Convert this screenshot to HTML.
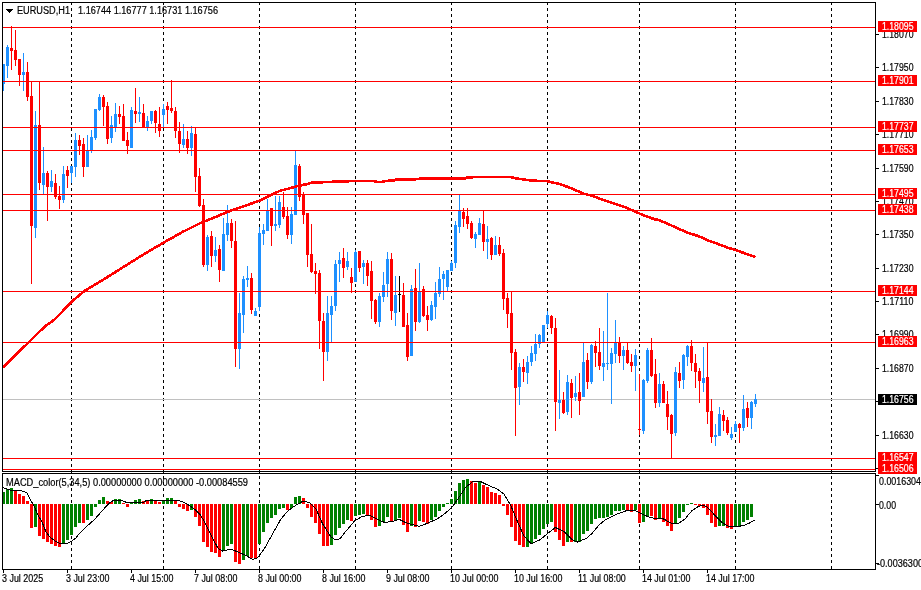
<!DOCTYPE html>
<html><head><meta charset="utf-8"><title>EURUSD,H1</title>
<style>
html,body{margin:0;padding:0;background:#fff;}
body{width:921px;height:590px;overflow:hidden;}
svg{display:block;will-change:transform;}
text{font-family:"Liberation Sans",sans-serif;}
</style></head>
<body>
<svg width="921" height="590" viewBox="0 0 921 590" shape-rendering="crispEdges">
<line x1="71.5" y1="2" x2="71.5" y2="570" stroke="#000" stroke-dasharray="3 3"/>
<line x1="163.5" y1="2" x2="163.5" y2="570" stroke="#000" stroke-dasharray="3 3"/>
<line x1="259.5" y1="2" x2="259.5" y2="570" stroke="#000" stroke-dasharray="3 3"/>
<line x1="355.5" y1="2" x2="355.5" y2="570" stroke="#000" stroke-dasharray="3 3"/>
<line x1="451.5" y1="2" x2="451.5" y2="570" stroke="#000" stroke-dasharray="3 3"/>
<line x1="547.5" y1="2" x2="547.5" y2="570" stroke="#000" stroke-dasharray="3 3"/>
<line x1="639.5" y1="2" x2="639.5" y2="570" stroke="#000" stroke-dasharray="3 3"/>
<line x1="735.5" y1="2" x2="735.5" y2="570" stroke="#000" stroke-dasharray="3 3"/>
<line x1="831.5" y1="2" x2="831.5" y2="570" stroke="#000" stroke-dasharray="3 3"/>
<rect x="3" y="399" width="872" height="1" fill="#c0c0c0"/>
<rect x="3" y="64" width="1" height="27" fill="#1e90ff"/>
<rect x="2" y="64" width="3" height="20" fill="#1e90ff"/>
<rect x="7" y="45" width="1" height="33" fill="#1e90ff"/>
<rect x="6" y="47" width="3" height="19" fill="#1e90ff"/>
<rect x="11" y="26" width="1" height="44" fill="#ff0000"/>
<rect x="10" y="48" width="3" height="3" fill="#ff0000"/>
<rect x="15" y="30" width="1" height="36" fill="#ff0000"/>
<rect x="14" y="50" width="3" height="10" fill="#ff0000"/>
<rect x="19" y="59" width="1" height="27" fill="#ff0000"/>
<rect x="18" y="59" width="3" height="16" fill="#ff0000"/>
<rect x="23" y="53" width="1" height="38" fill="#1e90ff"/>
<rect x="22" y="72" width="3" height="3" fill="#1e90ff"/>
<rect x="27" y="62" width="1" height="39" fill="#ff0000"/>
<rect x="26" y="72" width="3" height="25" fill="#ff0000"/>
<rect x="31" y="82" width="1" height="202" fill="#ff0000"/>
<rect x="30" y="96" width="3" height="130" fill="#ff0000"/>
<rect x="35" y="111" width="1" height="127" fill="#1e90ff"/>
<rect x="34" y="125" width="3" height="103" fill="#1e90ff"/>
<rect x="39" y="82" width="1" height="108" fill="#ff0000"/>
<rect x="38" y="125" width="3" height="58" fill="#ff0000"/>
<rect x="43" y="147" width="1" height="47" fill="#1e90ff"/>
<rect x="42" y="173" width="3" height="12" fill="#1e90ff"/>
<rect x="47" y="171" width="1" height="50" fill="#ff0000"/>
<rect x="46" y="173" width="3" height="14" fill="#ff0000"/>
<rect x="51" y="170" width="1" height="22" fill="#1e90ff"/>
<rect x="50" y="181" width="3" height="6" fill="#1e90ff"/>
<rect x="55" y="174" width="1" height="25" fill="#ff0000"/>
<rect x="54" y="183" width="3" height="14" fill="#ff0000"/>
<rect x="59" y="186" width="1" height="23" fill="#ff0000"/>
<rect x="58" y="196" width="3" height="4" fill="#ff0000"/>
<rect x="63" y="166" width="1" height="37" fill="#1e90ff"/>
<rect x="62" y="174" width="3" height="26" fill="#1e90ff"/>
<rect x="67" y="166" width="1" height="22" fill="#ff0000"/>
<rect x="66" y="170" width="3" height="6" fill="#ff0000"/>
<rect x="71" y="166" width="1" height="17" fill="#1e90ff"/>
<rect x="70" y="166" width="3" height="7" fill="#1e90ff"/>
<rect x="75" y="133" width="1" height="44" fill="#1e90ff"/>
<rect x="74" y="140" width="3" height="27" fill="#1e90ff"/>
<rect x="79" y="135" width="1" height="20" fill="#ff0000"/>
<rect x="78" y="140" width="3" height="6" fill="#ff0000"/>
<rect x="83" y="138" width="1" height="39" fill="#ff0000"/>
<rect x="82" y="144" width="3" height="23" fill="#ff0000"/>
<rect x="87" y="135" width="1" height="32" fill="#1e90ff"/>
<rect x="86" y="151" width="3" height="16" fill="#1e90ff"/>
<rect x="91" y="130" width="1" height="23" fill="#1e90ff"/>
<rect x="90" y="137" width="3" height="13" fill="#1e90ff"/>
<rect x="95" y="109" width="1" height="31" fill="#1e90ff"/>
<rect x="94" y="109" width="3" height="29" fill="#1e90ff"/>
<rect x="99" y="94" width="1" height="17" fill="#1e90ff"/>
<rect x="98" y="97" width="3" height="13" fill="#1e90ff"/>
<rect x="103" y="95" width="1" height="31" fill="#ff0000"/>
<rect x="102" y="97" width="3" height="10" fill="#ff0000"/>
<rect x="107" y="102" width="1" height="42" fill="#ff0000"/>
<rect x="106" y="106" width="3" height="33" fill="#ff0000"/>
<rect x="111" y="116" width="1" height="27" fill="#1e90ff"/>
<rect x="110" y="125" width="3" height="13" fill="#1e90ff"/>
<rect x="115" y="103" width="1" height="29" fill="#1e90ff"/>
<rect x="114" y="114" width="3" height="13" fill="#1e90ff"/>
<rect x="119" y="106" width="1" height="18" fill="#ff0000"/>
<rect x="118" y="114" width="3" height="3" fill="#ff0000"/>
<rect x="123" y="104" width="1" height="37" fill="#ff0000"/>
<rect x="122" y="116" width="3" height="25" fill="#ff0000"/>
<rect x="127" y="132" width="1" height="22" fill="#ff0000"/>
<rect x="126" y="140" width="3" height="6" fill="#ff0000"/>
<rect x="131" y="107" width="1" height="41" fill="#1e90ff"/>
<rect x="130" y="110" width="3" height="38" fill="#1e90ff"/>
<rect x="135" y="88" width="1" height="35" fill="#ff0000"/>
<rect x="134" y="111" width="3" height="3" fill="#ff0000"/>
<rect x="139" y="97" width="1" height="25" fill="#1e90ff"/>
<rect x="138" y="112" width="3" height="2" fill="#1e90ff"/>
<rect x="143" y="104" width="1" height="23" fill="#ff0000"/>
<rect x="142" y="113" width="3" height="14" fill="#ff0000"/>
<rect x="147" y="116" width="1" height="15" fill="#1e90ff"/>
<rect x="146" y="121" width="3" height="6" fill="#1e90ff"/>
<rect x="151" y="111" width="1" height="13" fill="#1e90ff"/>
<rect x="150" y="111" width="3" height="10" fill="#1e90ff"/>
<rect x="155" y="110" width="1" height="23" fill="#ff0000"/>
<rect x="154" y="111" width="3" height="12" fill="#ff0000"/>
<rect x="159" y="107" width="1" height="30" fill="#ff0000"/>
<rect x="158" y="124" width="3" height="7" fill="#ff0000"/>
<rect x="163" y="104" width="1" height="23" fill="#1e90ff"/>
<rect x="162" y="109" width="3" height="6" fill="#1e90ff"/>
<rect x="167" y="102" width="1" height="22" fill="#ff0000"/>
<rect x="166" y="106" width="3" height="4" fill="#ff0000"/>
<rect x="171" y="80" width="1" height="33" fill="#ff0000"/>
<rect x="170" y="108" width="3" height="3" fill="#ff0000"/>
<rect x="175" y="107" width="1" height="31" fill="#ff0000"/>
<rect x="174" y="111" width="3" height="20" fill="#ff0000"/>
<rect x="179" y="122" width="1" height="31" fill="#ff0000"/>
<rect x="178" y="131" width="3" height="13" fill="#ff0000"/>
<rect x="183" y="124" width="1" height="24" fill="#1e90ff"/>
<rect x="182" y="139" width="3" height="6" fill="#1e90ff"/>
<rect x="187" y="131" width="1" height="23" fill="#ff0000"/>
<rect x="186" y="139" width="3" height="9" fill="#ff0000"/>
<rect x="191" y="126" width="1" height="30" fill="#1e90ff"/>
<rect x="190" y="133" width="3" height="15" fill="#1e90ff"/>
<rect x="195" y="127" width="1" height="65" fill="#ff0000"/>
<rect x="194" y="134" width="3" height="43" fill="#ff0000"/>
<rect x="199" y="168" width="1" height="39" fill="#ff0000"/>
<rect x="198" y="176" width="3" height="30" fill="#ff0000"/>
<rect x="203" y="199" width="1" height="68" fill="#ff0000"/>
<rect x="202" y="205" width="3" height="60" fill="#ff0000"/>
<rect x="207" y="235" width="1" height="36" fill="#1e90ff"/>
<rect x="206" y="237" width="3" height="28" fill="#1e90ff"/>
<rect x="211" y="231" width="1" height="36" fill="#ff0000"/>
<rect x="210" y="236" width="3" height="20" fill="#ff0000"/>
<rect x="215" y="237" width="1" height="25" fill="#1e90ff"/>
<rect x="214" y="250" width="3" height="6" fill="#1e90ff"/>
<rect x="219" y="245" width="1" height="37" fill="#ff0000"/>
<rect x="218" y="249" width="3" height="21" fill="#ff0000"/>
<rect x="223" y="218" width="1" height="53" fill="#1e90ff"/>
<rect x="222" y="234" width="3" height="37" fill="#1e90ff"/>
<rect x="227" y="205" width="1" height="36" fill="#1e90ff"/>
<rect x="226" y="223" width="3" height="12" fill="#1e90ff"/>
<rect x="231" y="219" width="1" height="29" fill="#ff0000"/>
<rect x="230" y="223" width="3" height="18" fill="#ff0000"/>
<rect x="235" y="221" width="1" height="146" fill="#ff0000"/>
<rect x="234" y="241" width="3" height="108" fill="#ff0000"/>
<rect x="239" y="293" width="1" height="76" fill="#1e90ff"/>
<rect x="238" y="313" width="3" height="36" fill="#1e90ff"/>
<rect x="243" y="276" width="1" height="57" fill="#1e90ff"/>
<rect x="242" y="279" width="3" height="36" fill="#1e90ff"/>
<rect x="247" y="266" width="1" height="21" fill="#1e90ff"/>
<rect x="246" y="278" width="3" height="2" fill="#1e90ff"/>
<rect x="251" y="273" width="1" height="41" fill="#ff0000"/>
<rect x="250" y="278" width="3" height="32" fill="#ff0000"/>
<rect x="255" y="308" width="1" height="8" fill="#1e90ff"/>
<rect x="254" y="311" width="3" height="5" fill="#1e90ff"/>
<rect x="259" y="227" width="1" height="84" fill="#1e90ff"/>
<rect x="258" y="233" width="3" height="74" fill="#1e90ff"/>
<rect x="263" y="224" width="1" height="21" fill="#1e90ff"/>
<rect x="262" y="230" width="3" height="4" fill="#1e90ff"/>
<rect x="267" y="199" width="1" height="32" fill="#1e90ff"/>
<rect x="266" y="211" width="3" height="20" fill="#1e90ff"/>
<rect x="271" y="208" width="1" height="38" fill="#ff0000"/>
<rect x="270" y="208" width="3" height="18" fill="#ff0000"/>
<rect x="275" y="196" width="1" height="35" fill="#1e90ff"/>
<rect x="274" y="224" width="3" height="2" fill="#1e90ff"/>
<rect x="279" y="196" width="1" height="32" fill="#1e90ff"/>
<rect x="278" y="202" width="3" height="23" fill="#1e90ff"/>
<rect x="283" y="192" width="1" height="27" fill="#ff0000"/>
<rect x="282" y="207" width="3" height="10" fill="#ff0000"/>
<rect x="287" y="207" width="1" height="32" fill="#ff0000"/>
<rect x="286" y="216" width="3" height="19" fill="#ff0000"/>
<rect x="291" y="207" width="1" height="37" fill="#1e90ff"/>
<rect x="290" y="214" width="3" height="21" fill="#1e90ff"/>
<rect x="295" y="151" width="1" height="64" fill="#1e90ff"/>
<rect x="294" y="165" width="3" height="50" fill="#1e90ff"/>
<rect x="299" y="164" width="1" height="37" fill="#ff0000"/>
<rect x="298" y="166" width="3" height="31" fill="#ff0000"/>
<rect x="303" y="192" width="1" height="32" fill="#ff0000"/>
<rect x="302" y="194" width="3" height="21" fill="#ff0000"/>
<rect x="307" y="213" width="1" height="54" fill="#ff0000"/>
<rect x="306" y="213" width="3" height="42" fill="#ff0000"/>
<rect x="311" y="224" width="1" height="49" fill="#ff0000"/>
<rect x="310" y="254" width="3" height="18" fill="#ff0000"/>
<rect x="315" y="263" width="1" height="31" fill="#ff0000"/>
<rect x="314" y="271" width="3" height="3" fill="#ff0000"/>
<rect x="319" y="270" width="1" height="79" fill="#ff0000"/>
<rect x="318" y="273" width="3" height="48" fill="#ff0000"/>
<rect x="323" y="313" width="1" height="68" fill="#ff0000"/>
<rect x="322" y="321" width="3" height="31" fill="#ff0000"/>
<rect x="327" y="296" width="1" height="65" fill="#1e90ff"/>
<rect x="326" y="313" width="3" height="39" fill="#1e90ff"/>
<rect x="331" y="296" width="1" height="46" fill="#1e90ff"/>
<rect x="330" y="306" width="3" height="9" fill="#1e90ff"/>
<rect x="335" y="260" width="1" height="51" fill="#1e90ff"/>
<rect x="334" y="264" width="3" height="42" fill="#1e90ff"/>
<rect x="339" y="252" width="1" height="30" fill="#1e90ff"/>
<rect x="338" y="260" width="3" height="4" fill="#1e90ff"/>
<rect x="343" y="248" width="1" height="30" fill="#ff0000"/>
<rect x="342" y="258" width="3" height="10" fill="#ff0000"/>
<rect x="347" y="252" width="1" height="18" fill="#1e90ff"/>
<rect x="346" y="261" width="3" height="6" fill="#1e90ff"/>
<rect x="351" y="268" width="1" height="25" fill="#ff0000"/>
<rect x="350" y="277" width="3" height="6" fill="#ff0000"/>
<rect x="355" y="250" width="1" height="32" fill="#1e90ff"/>
<rect x="354" y="252" width="3" height="30" fill="#1e90ff"/>
<rect x="359" y="251" width="1" height="21" fill="#ff0000"/>
<rect x="358" y="251" width="3" height="17" fill="#ff0000"/>
<rect x="363" y="260" width="1" height="24" fill="#1e90ff"/>
<rect x="362" y="263" width="3" height="4" fill="#1e90ff"/>
<rect x="367" y="260" width="1" height="26" fill="#ff0000"/>
<rect x="366" y="263" width="3" height="13" fill="#ff0000"/>
<rect x="371" y="261" width="1" height="58" fill="#ff0000"/>
<rect x="370" y="271" width="3" height="30" fill="#ff0000"/>
<rect x="375" y="299" width="1" height="25" fill="#ff0000"/>
<rect x="374" y="300" width="3" height="22" fill="#ff0000"/>
<rect x="379" y="293" width="1" height="34" fill="#1e90ff"/>
<rect x="378" y="296" width="3" height="26" fill="#1e90ff"/>
<rect x="383" y="272" width="1" height="30" fill="#1e90ff"/>
<rect x="382" y="285" width="3" height="12" fill="#1e90ff"/>
<rect x="387" y="252" width="1" height="45" fill="#1e90ff"/>
<rect x="386" y="259" width="3" height="25" fill="#1e90ff"/>
<rect x="391" y="253" width="1" height="67" fill="#ff0000"/>
<rect x="390" y="259" width="3" height="52" fill="#ff0000"/>
<rect x="395" y="276" width="1" height="50" fill="#1e90ff"/>
<rect x="394" y="295" width="3" height="18" fill="#1e90ff"/>
<rect x="399" y="276" width="1" height="36" fill="#000"/>
<rect x="398" y="294" width="3" height="1" fill="#000"/>
<rect x="403" y="283" width="1" height="44" fill="#ff0000"/>
<rect x="402" y="295" width="3" height="32" fill="#ff0000"/>
<rect x="407" y="313" width="1" height="48" fill="#ff0000"/>
<rect x="406" y="325" width="3" height="32" fill="#ff0000"/>
<rect x="411" y="285" width="1" height="71" fill="#1e90ff"/>
<rect x="410" y="289" width="3" height="67" fill="#1e90ff"/>
<rect x="415" y="269" width="1" height="62" fill="#ff0000"/>
<rect x="414" y="288" width="3" height="34" fill="#ff0000"/>
<rect x="419" y="263" width="1" height="60" fill="#1e90ff"/>
<rect x="418" y="291" width="3" height="31" fill="#1e90ff"/>
<rect x="423" y="286" width="1" height="31" fill="#ff0000"/>
<rect x="422" y="289" width="3" height="27" fill="#ff0000"/>
<rect x="427" y="306" width="1" height="25" fill="#ff0000"/>
<rect x="426" y="315" width="3" height="5" fill="#ff0000"/>
<rect x="431" y="301" width="1" height="20" fill="#1e90ff"/>
<rect x="430" y="305" width="3" height="15" fill="#1e90ff"/>
<rect x="435" y="282" width="1" height="37" fill="#1e90ff"/>
<rect x="434" y="293" width="3" height="14" fill="#1e90ff"/>
<rect x="439" y="267" width="1" height="30" fill="#1e90ff"/>
<rect x="438" y="279" width="3" height="15" fill="#1e90ff"/>
<rect x="443" y="271" width="1" height="29" fill="#1e90ff"/>
<rect x="442" y="274" width="3" height="5" fill="#1e90ff"/>
<rect x="447" y="270" width="1" height="21" fill="#1e90ff"/>
<rect x="446" y="270" width="3" height="17" fill="#1e90ff"/>
<rect x="451" y="261" width="1" height="10" fill="#1e90ff"/>
<rect x="450" y="263" width="3" height="8" fill="#1e90ff"/>
<rect x="455" y="221" width="1" height="47" fill="#1e90ff"/>
<rect x="454" y="225" width="3" height="38" fill="#1e90ff"/>
<rect x="459" y="195" width="1" height="38" fill="#1e90ff"/>
<rect x="458" y="210" width="3" height="17" fill="#1e90ff"/>
<rect x="463" y="208" width="1" height="19" fill="#ff0000"/>
<rect x="462" y="212" width="3" height="7" fill="#ff0000"/>
<rect x="467" y="208" width="1" height="21" fill="#ff0000"/>
<rect x="466" y="216" width="3" height="8" fill="#ff0000"/>
<rect x="471" y="221" width="1" height="18" fill="#ff0000"/>
<rect x="470" y="223" width="3" height="15" fill="#ff0000"/>
<rect x="475" y="232" width="1" height="16" fill="#1e90ff"/>
<rect x="474" y="234" width="3" height="5" fill="#1e90ff"/>
<rect x="479" y="218" width="1" height="17" fill="#1e90ff"/>
<rect x="478" y="223" width="3" height="12" fill="#1e90ff"/>
<rect x="483" y="211" width="1" height="40" fill="#ff0000"/>
<rect x="482" y="224" width="3" height="18" fill="#ff0000"/>
<rect x="487" y="226" width="1" height="33" fill="#1e90ff"/>
<rect x="486" y="239" width="3" height="3" fill="#1e90ff"/>
<rect x="491" y="237" width="1" height="23" fill="#ff0000"/>
<rect x="490" y="238" width="3" height="17" fill="#ff0000"/>
<rect x="495" y="236" width="1" height="19" fill="#1e90ff"/>
<rect x="494" y="245" width="3" height="10" fill="#1e90ff"/>
<rect x="499" y="237" width="1" height="19" fill="#ff0000"/>
<rect x="498" y="245" width="3" height="9" fill="#ff0000"/>
<rect x="503" y="249" width="1" height="61" fill="#ff0000"/>
<rect x="502" y="253" width="3" height="46" fill="#ff0000"/>
<rect x="507" y="293" width="1" height="35" fill="#ff0000"/>
<rect x="506" y="298" width="3" height="16" fill="#ff0000"/>
<rect x="511" y="292" width="1" height="78" fill="#ff0000"/>
<rect x="510" y="313" width="3" height="40" fill="#ff0000"/>
<rect x="515" y="349" width="1" height="87" fill="#ff0000"/>
<rect x="514" y="352" width="3" height="36" fill="#ff0000"/>
<rect x="519" y="363" width="1" height="42" fill="#1e90ff"/>
<rect x="518" y="367" width="3" height="20" fill="#1e90ff"/>
<rect x="523" y="359" width="1" height="23" fill="#ff0000"/>
<rect x="522" y="367" width="3" height="5" fill="#ff0000"/>
<rect x="527" y="356" width="1" height="28" fill="#1e90ff"/>
<rect x="526" y="362" width="3" height="11" fill="#1e90ff"/>
<rect x="531" y="346" width="1" height="20" fill="#1e90ff"/>
<rect x="530" y="353" width="3" height="9" fill="#1e90ff"/>
<rect x="535" y="334" width="1" height="27" fill="#1e90ff"/>
<rect x="534" y="344" width="3" height="10" fill="#1e90ff"/>
<rect x="539" y="334" width="1" height="14" fill="#1e90ff"/>
<rect x="538" y="335" width="3" height="9" fill="#1e90ff"/>
<rect x="543" y="325" width="1" height="17" fill="#1e90ff"/>
<rect x="542" y="325" width="3" height="17" fill="#1e90ff"/>
<rect x="547" y="311" width="1" height="17" fill="#1e90ff"/>
<rect x="546" y="315" width="3" height="9" fill="#1e90ff"/>
<rect x="551" y="315" width="1" height="19" fill="#ff0000"/>
<rect x="550" y="316" width="3" height="12" fill="#ff0000"/>
<rect x="555" y="318" width="1" height="113" fill="#ff0000"/>
<rect x="554" y="328" width="3" height="74" fill="#ff0000"/>
<rect x="559" y="370" width="1" height="49" fill="#1e90ff"/>
<rect x="558" y="400" width="3" height="3" fill="#1e90ff"/>
<rect x="563" y="392" width="1" height="22" fill="#ff0000"/>
<rect x="562" y="400" width="3" height="13" fill="#ff0000"/>
<rect x="567" y="375" width="1" height="40" fill="#1e90ff"/>
<rect x="566" y="382" width="3" height="30" fill="#1e90ff"/>
<rect x="571" y="379" width="1" height="39" fill="#ff0000"/>
<rect x="570" y="383" width="3" height="15" fill="#ff0000"/>
<rect x="575" y="376" width="1" height="25" fill="#1e90ff"/>
<rect x="574" y="393" width="3" height="4" fill="#1e90ff"/>
<rect x="579" y="373" width="1" height="42" fill="#ff0000"/>
<rect x="578" y="392" width="3" height="9" fill="#ff0000"/>
<rect x="583" y="343" width="1" height="54" fill="#1e90ff"/>
<rect x="582" y="362" width="3" height="35" fill="#1e90ff"/>
<rect x="587" y="353" width="1" height="36" fill="#ff0000"/>
<rect x="586" y="360" width="3" height="22" fill="#ff0000"/>
<rect x="591" y="344" width="1" height="40" fill="#1e90ff"/>
<rect x="590" y="345" width="3" height="37" fill="#1e90ff"/>
<rect x="595" y="341" width="1" height="26" fill="#ff0000"/>
<rect x="594" y="346" width="3" height="7" fill="#ff0000"/>
<rect x="599" y="328" width="1" height="42" fill="#ff0000"/>
<rect x="598" y="352" width="3" height="14" fill="#ff0000"/>
<rect x="603" y="331" width="1" height="50" fill="#1e90ff"/>
<rect x="602" y="363" width="3" height="4" fill="#1e90ff"/>
<rect x="607" y="293" width="1" height="77" fill="#1e90ff"/>
<rect x="606" y="363" width="3" height="1" fill="#1e90ff"/>
<rect x="611" y="348" width="1" height="56" fill="#1e90ff"/>
<rect x="610" y="353" width="3" height="11" fill="#1e90ff"/>
<rect x="615" y="320" width="1" height="43" fill="#1e90ff"/>
<rect x="614" y="343" width="3" height="11" fill="#1e90ff"/>
<rect x="619" y="337" width="1" height="26" fill="#ff0000"/>
<rect x="618" y="342" width="3" height="14" fill="#ff0000"/>
<rect x="623" y="346" width="1" height="24" fill="#1e90ff"/>
<rect x="622" y="350" width="3" height="6" fill="#1e90ff"/>
<rect x="627" y="343" width="1" height="21" fill="#ff0000"/>
<rect x="626" y="350" width="3" height="13" fill="#ff0000"/>
<rect x="631" y="354" width="1" height="18" fill="#ff0000"/>
<rect x="630" y="362" width="3" height="4" fill="#ff0000"/>
<rect x="635" y="349" width="1" height="42" fill="#1e90ff"/>
<rect x="634" y="355" width="3" height="11" fill="#1e90ff"/>
<rect x="639" y="374" width="1" height="61" fill="#ff0000"/>
<rect x="638" y="429" width="3" height="1" fill="#ff0000"/>
<rect x="643" y="379" width="1" height="55" fill="#1e90ff"/>
<rect x="642" y="380" width="3" height="51" fill="#1e90ff"/>
<rect x="647" y="348" width="1" height="35" fill="#1e90ff"/>
<rect x="646" y="350" width="3" height="31" fill="#1e90ff"/>
<rect x="651" y="338" width="1" height="39" fill="#ff0000"/>
<rect x="650" y="350" width="3" height="26" fill="#ff0000"/>
<rect x="655" y="359" width="1" height="49" fill="#ff0000"/>
<rect x="654" y="374" width="3" height="29" fill="#ff0000"/>
<rect x="659" y="373" width="1" height="34" fill="#1e90ff"/>
<rect x="658" y="384" width="3" height="19" fill="#1e90ff"/>
<rect x="663" y="381" width="1" height="22" fill="#ff0000"/>
<rect x="662" y="384" width="3" height="19" fill="#ff0000"/>
<rect x="667" y="391" width="1" height="39" fill="#ff0000"/>
<rect x="666" y="404" width="3" height="13" fill="#ff0000"/>
<rect x="671" y="414" width="1" height="44" fill="#ff0000"/>
<rect x="670" y="415" width="3" height="19" fill="#ff0000"/>
<rect x="675" y="367" width="1" height="69" fill="#1e90ff"/>
<rect x="674" y="372" width="3" height="61" fill="#1e90ff"/>
<rect x="679" y="362" width="1" height="26" fill="#ff0000"/>
<rect x="678" y="373" width="3" height="8" fill="#ff0000"/>
<rect x="683" y="354" width="1" height="35" fill="#1e90ff"/>
<rect x="682" y="355" width="3" height="25" fill="#1e90ff"/>
<rect x="687" y="345" width="1" height="21" fill="#1e90ff"/>
<rect x="686" y="346" width="3" height="11" fill="#1e90ff"/>
<rect x="691" y="340" width="1" height="31" fill="#ff0000"/>
<rect x="690" y="346" width="3" height="17" fill="#ff0000"/>
<rect x="695" y="354" width="1" height="34" fill="#ff0000"/>
<rect x="694" y="363" width="3" height="9" fill="#ff0000"/>
<rect x="699" y="368" width="1" height="35" fill="#ff0000"/>
<rect x="698" y="371" width="3" height="10" fill="#ff0000"/>
<rect x="703" y="347" width="1" height="45" fill="#1e90ff"/>
<rect x="702" y="378" width="3" height="5" fill="#1e90ff"/>
<rect x="707" y="343" width="1" height="81" fill="#ff0000"/>
<rect x="706" y="377" width="3" height="35" fill="#ff0000"/>
<rect x="711" y="399" width="1" height="44" fill="#ff0000"/>
<rect x="710" y="411" width="3" height="26" fill="#ff0000"/>
<rect x="715" y="424" width="1" height="22" fill="#1e90ff"/>
<rect x="714" y="435" width="3" height="2" fill="#1e90ff"/>
<rect x="719" y="407" width="1" height="29" fill="#1e90ff"/>
<rect x="718" y="414" width="3" height="22" fill="#1e90ff"/>
<rect x="723" y="410" width="1" height="21" fill="#ff0000"/>
<rect x="722" y="415" width="3" height="6" fill="#ff0000"/>
<rect x="727" y="417" width="1" height="18" fill="#ff0000"/>
<rect x="726" y="420" width="3" height="13" fill="#ff0000"/>
<rect x="731" y="427" width="1" height="13" fill="#1e90ff"/>
<rect x="730" y="434" width="3" height="4" fill="#1e90ff"/>
<rect x="735" y="421" width="1" height="11" fill="#1e90ff"/>
<rect x="734" y="424" width="3" height="8" fill="#1e90ff"/>
<rect x="739" y="423" width="1" height="20" fill="#ff0000"/>
<rect x="738" y="424" width="3" height="4" fill="#ff0000"/>
<rect x="743" y="395" width="1" height="36" fill="#1e90ff"/>
<rect x="742" y="409" width="3" height="19" fill="#1e90ff"/>
<rect x="747" y="402" width="1" height="25" fill="#ff0000"/>
<rect x="746" y="408" width="3" height="10" fill="#ff0000"/>
<rect x="751" y="401" width="1" height="28" fill="#1e90ff"/>
<rect x="750" y="402" width="3" height="16" fill="#1e90ff"/>
<rect x="755" y="394" width="1" height="13" fill="#1e90ff"/>
<rect x="754" y="399" width="3" height="5" fill="#1e90ff"/>
<rect x="3" y="27" width="872" height="1" fill="#ff0000"/>
<rect x="3" y="81" width="872" height="1" fill="#ff0000"/>
<rect x="3" y="127" width="872" height="1" fill="#ff0000"/>
<rect x="3" y="150" width="872" height="1" fill="#ff0000"/>
<rect x="3" y="194" width="872" height="1" fill="#ff0000"/>
<rect x="3" y="210" width="872" height="1" fill="#ff0000"/>
<rect x="3" y="291" width="872" height="1" fill="#ff0000"/>
<rect x="3" y="342" width="872" height="1" fill="#ff0000"/>
<rect x="3" y="458" width="872" height="1" fill="#ff0000"/>
<rect x="3" y="469" width="872" height="1" fill="#ff0000"/>
<polyline points="3.0,367.3 19.3,351.5 28.5,342.4 38.7,332.2 46.8,325.0 54.0,320.0 60.0,314.0 71.4,302.0 84.4,290.9 105.7,278.2 124.0,266.6 143.8,254.3 163.7,242.6 182.0,232.2 200.0,223.3 230.0,211.0 259.6,200.7 273.0,194.0 280.0,190.8 289.0,188.5 298.0,186.0 307.4,184.0 312.0,182.7 327.0,182.0 354.5,181.0 374.0,181.0 377.0,182.0 382.0,182.0 385.0,181.0 394.0,180.5 395.5,179.7 410.0,179.8 418.0,179.0 420.0,178.6 465.4,178.5 467.0,177.7 475.0,177.0 511.0,177.0 514.0,178.0 524.0,179.5 532.0,180.7 546.8,181.0 551.7,182.3 559.5,184.0 571.3,188.2 583.0,193.5 592.0,195.8 602.5,199.7 613.0,203.2 623.4,206.5 633.8,211.0 644.2,215.6 654.7,219.3 657.8,219.8 665.6,222.8 676.0,227.6 687.8,232.8 698.2,236.0 708.6,240.6 717.8,243.9 728.2,247.8 738.6,251.0 749.0,255.0 755.5,256.9" fill="none" stroke="#ff0000" stroke-width="2.6" stroke-linejoin="round" stroke-linecap="butt"/>
<rect x="2" y="492" width="3" height="12" fill="#008000"/>
<rect x="6" y="489" width="3" height="15" fill="#008000"/>
<rect x="10" y="488" width="3" height="16" fill="#008000"/>
<rect x="14" y="491" width="3" height="13" fill="#ff0000"/>
<rect x="18" y="494" width="3" height="10" fill="#ff0000"/>
<rect x="22" y="496" width="3" height="8" fill="#ff0000"/>
<rect x="26" y="501" width="3" height="3" fill="#ff0000"/>
<rect x="30" y="504" width="3" height="24" fill="#ff0000"/>
<rect x="34" y="504" width="3" height="23" fill="#008000"/>
<rect x="38" y="504" width="3" height="32" fill="#ff0000"/>
<rect x="42" y="504" width="3" height="35" fill="#ff0000"/>
<rect x="46" y="504" width="3" height="38" fill="#ff0000"/>
<rect x="50" y="504" width="3" height="40" fill="#ff0000"/>
<rect x="54" y="504" width="3" height="42" fill="#ff0000"/>
<rect x="58" y="504" width="3" height="43" fill="#ff0000"/>
<rect x="62" y="504" width="3" height="39" fill="#008000"/>
<rect x="66" y="504" width="3" height="36" fill="#008000"/>
<rect x="70" y="504" width="3" height="31" fill="#008000"/>
<rect x="74" y="504" width="3" height="23" fill="#008000"/>
<rect x="78" y="504" width="3" height="19" fill="#008000"/>
<rect x="82" y="504" width="3" height="19" fill="#ff0000"/>
<rect x="86" y="504" width="3" height="16" fill="#008000"/>
<rect x="90" y="504" width="3" height="12" fill="#008000"/>
<rect x="94" y="504" width="3" height="3" fill="#008000"/>
<rect x="98" y="500" width="3" height="4" fill="#008000"/>
<rect x="102" y="497" width="3" height="7" fill="#008000"/>
<rect x="106" y="501" width="3" height="3" fill="#ff0000"/>
<rect x="110" y="502" width="3" height="2" fill="#ff0000"/>
<rect x="114" y="499" width="3" height="5" fill="#008000"/>
<rect x="118" y="499" width="3" height="5" fill="#008000"/>
<rect x="122" y="503" width="3" height="1" fill="#ff0000"/>
<rect x="126" y="504" width="3" height="3" fill="#ff0000"/>
<rect x="130" y="503" width="3" height="1" fill="#008000"/>
<rect x="134" y="500" width="3" height="4" fill="#008000"/>
<rect x="138" y="499" width="3" height="5" fill="#008000"/>
<rect x="142" y="501" width="3" height="3" fill="#ff0000"/>
<rect x="146" y="501" width="3" height="3" fill="#ff0000"/>
<rect x="150" y="499" width="3" height="5" fill="#008000"/>
<rect x="154" y="501" width="3" height="3" fill="#ff0000"/>
<rect x="158" y="502" width="3" height="2" fill="#ff0000"/>
<rect x="162" y="501" width="3" height="3" fill="#008000"/>
<rect x="166" y="498" width="3" height="6" fill="#008000"/>
<rect x="170" y="498" width="3" height="6" fill="#008000"/>
<rect x="174" y="501" width="3" height="3" fill="#ff0000"/>
<rect x="178" y="504" width="3" height="3" fill="#ff0000"/>
<rect x="182" y="504" width="3" height="5" fill="#ff0000"/>
<rect x="186" y="504" width="3" height="7" fill="#ff0000"/>
<rect x="190" y="504" width="3" height="6" fill="#008000"/>
<rect x="194" y="504" width="3" height="13" fill="#ff0000"/>
<rect x="198" y="504" width="3" height="22" fill="#ff0000"/>
<rect x="202" y="504" width="3" height="38" fill="#ff0000"/>
<rect x="206" y="504" width="3" height="43" fill="#ff0000"/>
<rect x="210" y="504" width="3" height="48" fill="#ff0000"/>
<rect x="214" y="504" width="3" height="49" fill="#ff0000"/>
<rect x="218" y="504" width="3" height="53" fill="#ff0000"/>
<rect x="222" y="504" width="3" height="47" fill="#008000"/>
<rect x="226" y="504" width="3" height="42" fill="#008000"/>
<rect x="230" y="504" width="3" height="40" fill="#008000"/>
<rect x="234" y="504" width="3" height="58" fill="#ff0000"/>
<rect x="238" y="504" width="3" height="60" fill="#ff0000"/>
<rect x="242" y="504" width="3" height="56" fill="#008000"/>
<rect x="246" y="504" width="3" height="52" fill="#008000"/>
<rect x="250" y="504" width="3" height="54" fill="#ff0000"/>
<rect x="254" y="504" width="3" height="54" fill="#ff0000"/>
<rect x="258" y="504" width="3" height="40" fill="#008000"/>
<rect x="262" y="504" width="3" height="28" fill="#008000"/>
<rect x="266" y="504" width="3" height="19" fill="#008000"/>
<rect x="270" y="504" width="3" height="14" fill="#008000"/>
<rect x="274" y="504" width="3" height="11" fill="#008000"/>
<rect x="278" y="504" width="3" height="5" fill="#008000"/>
<rect x="282" y="504" width="3" height="4" fill="#008000"/>
<rect x="286" y="504" width="3" height="6" fill="#ff0000"/>
<rect x="290" y="504" width="3" height="4" fill="#008000"/>
<rect x="294" y="497" width="3" height="7" fill="#008000"/>
<rect x="298" y="496" width="3" height="8" fill="#008000"/>
<rect x="302" y="498" width="3" height="6" fill="#ff0000"/>
<rect x="306" y="504" width="3" height="4" fill="#ff0000"/>
<rect x="310" y="504" width="3" height="13" fill="#ff0000"/>
<rect x="314" y="504" width="3" height="19" fill="#ff0000"/>
<rect x="318" y="504" width="3" height="30" fill="#ff0000"/>
<rect x="322" y="504" width="3" height="42" fill="#ff0000"/>
<rect x="326" y="504" width="3" height="42" fill="#ff0000"/>
<rect x="330" y="504" width="3" height="41" fill="#008000"/>
<rect x="334" y="504" width="3" height="31" fill="#008000"/>
<rect x="338" y="504" width="3" height="24" fill="#008000"/>
<rect x="342" y="504" width="3" height="20" fill="#008000"/>
<rect x="346" y="504" width="3" height="16" fill="#008000"/>
<rect x="350" y="504" width="3" height="17" fill="#ff0000"/>
<rect x="354" y="504" width="3" height="12" fill="#008000"/>
<rect x="358" y="504" width="3" height="11" fill="#008000"/>
<rect x="362" y="504" width="3" height="10" fill="#008000"/>
<rect x="366" y="504" width="3" height="11" fill="#ff0000"/>
<rect x="370" y="504" width="3" height="16" fill="#ff0000"/>
<rect x="374" y="504" width="3" height="23" fill="#ff0000"/>
<rect x="378" y="504" width="3" height="22" fill="#008000"/>
<rect x="382" y="504" width="3" height="18" fill="#008000"/>
<rect x="386" y="504" width="3" height="13" fill="#008000"/>
<rect x="390" y="504" width="3" height="17" fill="#ff0000"/>
<rect x="394" y="504" width="3" height="16" fill="#008000"/>
<rect x="398" y="504" width="3" height="14" fill="#008000"/>
<rect x="402" y="504" width="3" height="21" fill="#ff0000"/>
<rect x="406" y="504" width="3" height="28" fill="#ff0000"/>
<rect x="410" y="504" width="3" height="22" fill="#008000"/>
<rect x="414" y="504" width="3" height="23" fill="#ff0000"/>
<rect x="418" y="504" width="3" height="17" fill="#008000"/>
<rect x="422" y="504" width="3" height="18" fill="#ff0000"/>
<rect x="426" y="504" width="3" height="20" fill="#ff0000"/>
<rect x="430" y="504" width="3" height="16" fill="#008000"/>
<rect x="434" y="504" width="3" height="13" fill="#008000"/>
<rect x="438" y="504" width="3" height="7" fill="#008000"/>
<rect x="442" y="504" width="3" height="3" fill="#008000"/>
<rect x="446" y="503" width="3" height="1" fill="#008000"/>
<rect x="450" y="499" width="3" height="5" fill="#008000"/>
<rect x="454" y="491" width="3" height="13" fill="#008000"/>
<rect x="458" y="483" width="3" height="21" fill="#008000"/>
<rect x="462" y="480" width="3" height="24" fill="#008000"/>
<rect x="466" y="479" width="3" height="25" fill="#008000"/>
<rect x="470" y="481" width="3" height="23" fill="#ff0000"/>
<rect x="474" y="483" width="3" height="21" fill="#ff0000"/>
<rect x="478" y="482" width="3" height="22" fill="#008000"/>
<rect x="482" y="485" width="3" height="19" fill="#ff0000"/>
<rect x="486" y="487" width="3" height="17" fill="#ff0000"/>
<rect x="490" y="492" width="3" height="12" fill="#ff0000"/>
<rect x="494" y="493" width="3" height="11" fill="#ff0000"/>
<rect x="498" y="495" width="3" height="9" fill="#ff0000"/>
<rect x="502" y="504" width="3" height="2" fill="#ff0000"/>
<rect x="506" y="504" width="3" height="11" fill="#ff0000"/>
<rect x="510" y="504" width="3" height="23" fill="#ff0000"/>
<rect x="514" y="504" width="3" height="37" fill="#ff0000"/>
<rect x="518" y="504" width="3" height="41" fill="#ff0000"/>
<rect x="522" y="504" width="3" height="43" fill="#ff0000"/>
<rect x="526" y="504" width="3" height="43" fill="#008000"/>
<rect x="530" y="504" width="3" height="40" fill="#008000"/>
<rect x="534" y="504" width="3" height="35" fill="#008000"/>
<rect x="538" y="504" width="3" height="31" fill="#008000"/>
<rect x="542" y="504" width="3" height="25" fill="#008000"/>
<rect x="546" y="504" width="3" height="20" fill="#008000"/>
<rect x="550" y="504" width="3" height="18" fill="#008000"/>
<rect x="554" y="504" width="3" height="28" fill="#ff0000"/>
<rect x="558" y="504" width="3" height="36" fill="#ff0000"/>
<rect x="562" y="504" width="3" height="42" fill="#ff0000"/>
<rect x="566" y="504" width="3" height="38" fill="#008000"/>
<rect x="570" y="504" width="3" height="38" fill="#ff0000"/>
<rect x="574" y="504" width="3" height="38" fill="#008000"/>
<rect x="578" y="504" width="3" height="38" fill="#008000"/>
<rect x="582" y="504" width="3" height="30" fill="#008000"/>
<rect x="586" y="504" width="3" height="27" fill="#008000"/>
<rect x="590" y="504" width="3" height="20" fill="#008000"/>
<rect x="594" y="504" width="3" height="15" fill="#008000"/>
<rect x="598" y="504" width="3" height="14" fill="#008000"/>
<rect x="602" y="504" width="3" height="14" fill="#008000"/>
<rect x="606" y="504" width="3" height="13" fill="#008000"/>
<rect x="610" y="504" width="3" height="11" fill="#008000"/>
<rect x="614" y="504" width="3" height="7" fill="#008000"/>
<rect x="618" y="504" width="3" height="7" fill="#008000"/>
<rect x="622" y="504" width="3" height="6" fill="#008000"/>
<rect x="626" y="504" width="3" height="6" fill="#ff0000"/>
<rect x="630" y="504" width="3" height="8" fill="#ff0000"/>
<rect x="634" y="504" width="3" height="6" fill="#008000"/>
<rect x="638" y="504" width="3" height="19" fill="#ff0000"/>
<rect x="642" y="504" width="3" height="18" fill="#008000"/>
<rect x="646" y="504" width="3" height="12" fill="#008000"/>
<rect x="650" y="504" width="3" height="12" fill="#ff0000"/>
<rect x="654" y="504" width="3" height="16" fill="#ff0000"/>
<rect x="658" y="504" width="3" height="14" fill="#008000"/>
<rect x="662" y="504" width="3" height="18" fill="#ff0000"/>
<rect x="666" y="504" width="3" height="22" fill="#ff0000"/>
<rect x="670" y="504" width="3" height="27" fill="#ff0000"/>
<rect x="674" y="504" width="3" height="20" fill="#008000"/>
<rect x="678" y="504" width="3" height="14" fill="#008000"/>
<rect x="682" y="504" width="3" height="8" fill="#008000"/>
<rect x="686" y="504" width="3" height="1" fill="#008000"/>
<rect x="690" y="503" width="3" height="1" fill="#008000"/>
<rect x="694" y="504" width="3" height="1" fill="#ff0000"/>
<rect x="698" y="504" width="3" height="2" fill="#ff0000"/>
<rect x="702" y="504" width="3" height="4" fill="#ff0000"/>
<rect x="706" y="504" width="3" height="11" fill="#ff0000"/>
<rect x="710" y="504" width="3" height="19" fill="#ff0000"/>
<rect x="714" y="504" width="3" height="23" fill="#ff0000"/>
<rect x="718" y="504" width="3" height="22" fill="#008000"/>
<rect x="722" y="504" width="3" height="22" fill="#008000"/>
<rect x="726" y="504" width="3" height="24" fill="#ff0000"/>
<rect x="730" y="504" width="3" height="25" fill="#ff0000"/>
<rect x="734" y="504" width="3" height="22" fill="#008000"/>
<rect x="738" y="504" width="3" height="22" fill="#008000"/>
<rect x="742" y="504" width="3" height="18" fill="#008000"/>
<rect x="746" y="504" width="3" height="16" fill="#008000"/>
<rect x="750" y="504" width="3" height="13" fill="#008000"/>
<polyline points="3.0,487.8 10.0,490.0 16.0,490.5 24.0,491.2 27.0,493.0 30.0,499.0 34.0,506.0 38.0,515.0 42.0,522.0 46.0,532.0 50.0,537.0 55.0,541.0 60.0,543.5 64.0,544.0 68.0,543.0 72.0,541.0 76.0,538.0 78.0,535.0 86.0,527.0 94.0,520.0 102.0,511.0 106.0,506.5 110.0,502.5 114.0,500.0 121.0,500.0 126.0,502.2 130.0,502.5 143.0,502.5 147.0,500.2 160.0,500.2 176.0,500.2 182.0,501.5 186.0,503.5 190.0,506.0 195.0,509.5 200.0,514.5 202.8,518.9 209.5,532.0 217.8,548.0 222.7,551.2 231.0,549.0 237.7,552.0 246.0,555.4 252.7,559.5 257.6,557.9 264.3,548.8 272.6,533.8 281.0,518.9 287.5,511.4 294.0,506.4 298.0,504.0 302.6,501.4 309.0,502.2 316.0,508.9 322.6,523.8 331.0,537.0 336.0,540.0 340.0,538.8 345.8,531.3 355.0,520.5 362.4,516.4 369.0,515.2 375.7,518.5 384.0,522.2 392.3,521.8 399.0,519.2 405.6,522.5 412.3,524.7 419.0,526.3 427.0,523.5 437.2,518.9 444.0,514.2 451.5,508.0 459.0,497.3 465.6,487.3 472.2,482.0 480.5,481.5 488.9,485.6 497.0,489.0 503.8,494.0 510.4,504.7 517.0,520.5 523.7,535.5 531.2,544.0 540.3,539.6 547.0,534.0 555.3,527.5 563.6,531.3 571.9,539.6 577.7,542.1 586.9,538.0 592.0,533.5 598.6,525.5 605.3,519.7 615.3,514.7 627.0,510.5 636.0,510.9 641.8,513.9 648.5,516.9 655.0,518.5 663.4,518.9 671.7,523.5 678.4,523.5 685.0,518.9 691.7,510.9 698.3,506.4 703.3,505.2 707.5,507.2 715.0,515.5 721.6,522.2 728.2,526.3 734.9,526.3 739.0,526.3 744.7,525.2 749.2,523.2 754.8,520.0" fill="none" stroke="#000" stroke-width="1" stroke-linejoin="round"/>
<rect x="0" y="0" width="2" height="590" fill="#fff"/>
<rect x="2" y="2" width="874" height="1" fill="#000"/>
<rect x="2" y="2" width="1" height="470" fill="#000"/>
<rect x="875" y="2" width="1" height="470" fill="#000"/>
<rect x="2" y="471" width="874" height="1" fill="#000"/>
<rect x="2" y="473" width="874" height="1" fill="#000"/>
<rect x="2" y="473" width="1" height="97" fill="#000"/>
<rect x="875" y="473" width="1" height="97" fill="#000"/>
<rect x="2" y="569" width="874" height="1" fill="#000"/>
<rect x="876" y="34" width="3" height="1" fill="#000"/>
<text x="882" y="38" font-size="10" fill="#000" stroke="#000" stroke-width="0.2" textLength="31.5" lengthAdjust="spacingAndGlyphs">1.18070</text>
<rect x="876" y="67" width="3" height="1" fill="#000"/>
<text x="882" y="71" font-size="10" fill="#000" stroke="#000" stroke-width="0.2" textLength="31.5" lengthAdjust="spacingAndGlyphs">1.17950</text>
<rect x="876" y="101" width="3" height="1" fill="#000"/>
<text x="882" y="105" font-size="10" fill="#000" stroke="#000" stroke-width="0.2" textLength="31.5" lengthAdjust="spacingAndGlyphs">1.17830</text>
<rect x="876" y="134" width="3" height="1" fill="#000"/>
<text x="882" y="138" font-size="10" fill="#000" stroke="#000" stroke-width="0.2" textLength="31.5" lengthAdjust="spacingAndGlyphs">1.17710</text>
<rect x="876" y="168" width="3" height="1" fill="#000"/>
<text x="882" y="172" font-size="10" fill="#000" stroke="#000" stroke-width="0.2" textLength="31.5" lengthAdjust="spacingAndGlyphs">1.17590</text>
<rect x="876" y="201" width="3" height="1" fill="#000"/>
<text x="882" y="205" font-size="10" fill="#000" stroke="#000" stroke-width="0.2" textLength="31.5" lengthAdjust="spacingAndGlyphs">1.17470</text>
<rect x="876" y="234" width="3" height="1" fill="#000"/>
<text x="882" y="238" font-size="10" fill="#000" stroke="#000" stroke-width="0.2" textLength="31.5" lengthAdjust="spacingAndGlyphs">1.17350</text>
<rect x="876" y="268" width="3" height="1" fill="#000"/>
<text x="882" y="272" font-size="10" fill="#000" stroke="#000" stroke-width="0.2" textLength="31.5" lengthAdjust="spacingAndGlyphs">1.17230</text>
<rect x="876" y="301" width="3" height="1" fill="#000"/>
<text x="882" y="305" font-size="10" fill="#000" stroke="#000" stroke-width="0.2" textLength="31.5" lengthAdjust="spacingAndGlyphs">1.17110</text>
<rect x="876" y="334" width="3" height="1" fill="#000"/>
<text x="882" y="338" font-size="10" fill="#000" stroke="#000" stroke-width="0.2" textLength="31.5" lengthAdjust="spacingAndGlyphs">1.16990</text>
<rect x="876" y="368" width="3" height="1" fill="#000"/>
<text x="882" y="372" font-size="10" fill="#000" stroke="#000" stroke-width="0.2" textLength="31.5" lengthAdjust="spacingAndGlyphs">1.16870</text>
<rect x="876" y="401" width="3" height="1" fill="#000"/>
<text x="882" y="405" font-size="10" fill="#000" stroke="#000" stroke-width="0.2" textLength="31.5" lengthAdjust="spacingAndGlyphs">1.16750</text>
<rect x="876" y="435" width="3" height="1" fill="#000"/>
<text x="882" y="439" font-size="10" fill="#000" stroke="#000" stroke-width="0.2" textLength="31.5" lengthAdjust="spacingAndGlyphs">1.16630</text>
<rect x="876" y="468" width="3" height="1" fill="#000"/>
<text x="882" y="472" font-size="10" fill="#000" stroke="#000" stroke-width="0.2" textLength="31.5" lengthAdjust="spacingAndGlyphs">1.16510</text>
<rect x="876" y="475" width="3" height="1" fill="#000"/>
<text x="879" y="485" font-size="10" fill="#000" stroke="#000" stroke-width="0.2" textLength="42.0" lengthAdjust="spacingAndGlyphs">0.0016304</text>
<rect x="876" y="504" width="3" height="1" fill="#000"/>
<text x="879" y="509" font-size="10" fill="#000" stroke="#000" stroke-width="0.2" textLength="17.0" lengthAdjust="spacingAndGlyphs">0.00</text>
<rect x="876" y="563" width="3" height="1" fill="#000"/>
<text x="877" y="567" font-size="10" fill="#000" stroke="#000" stroke-width="0.2" textLength="46.0" lengthAdjust="spacingAndGlyphs">-0.0036300</text>
<rect x="878" y="21" width="39" height="11" fill="#ff0000"/>
<text x="882" y="30" font-size="10" fill="#fff" stroke="#fff" stroke-width="0.2" textLength="31.5" lengthAdjust="spacingAndGlyphs">1.18095</text>
<rect x="878" y="75" width="39" height="11" fill="#ff0000"/>
<text x="882" y="84" font-size="10" fill="#fff" stroke="#fff" stroke-width="0.2" textLength="31.5" lengthAdjust="spacingAndGlyphs">1.17901</text>
<rect x="878" y="121" width="39" height="11" fill="#ff0000"/>
<text x="882" y="130" font-size="10" fill="#fff" stroke="#fff" stroke-width="0.2" textLength="31.5" lengthAdjust="spacingAndGlyphs">1.17737</text>
<rect x="878" y="144" width="39" height="11" fill="#ff0000"/>
<text x="882" y="153" font-size="10" fill="#fff" stroke="#fff" stroke-width="0.2" textLength="31.5" lengthAdjust="spacingAndGlyphs">1.17653</text>
<rect x="878" y="188" width="39" height="11" fill="#ff0000"/>
<text x="882" y="197" font-size="10" fill="#fff" stroke="#fff" stroke-width="0.2" textLength="31.5" lengthAdjust="spacingAndGlyphs">1.17495</text>
<rect x="878" y="204" width="39" height="11" fill="#ff0000"/>
<text x="882" y="213" font-size="10" fill="#fff" stroke="#fff" stroke-width="0.2" textLength="31.5" lengthAdjust="spacingAndGlyphs">1.17438</text>
<rect x="878" y="285" width="39" height="11" fill="#ff0000"/>
<text x="882" y="294" font-size="10" fill="#fff" stroke="#fff" stroke-width="0.2" textLength="31.5" lengthAdjust="spacingAndGlyphs">1.17144</text>
<rect x="878" y="336" width="39" height="11" fill="#ff0000"/>
<text x="882" y="345" font-size="10" fill="#fff" stroke="#fff" stroke-width="0.2" textLength="31.5" lengthAdjust="spacingAndGlyphs">1.16963</text>
<rect x="878" y="452" width="39" height="11" fill="#ff0000"/>
<text x="882" y="461" font-size="10" fill="#fff" stroke="#fff" stroke-width="0.2" textLength="31.5" lengthAdjust="spacingAndGlyphs">1.16547</text>
<rect x="878" y="463" width="39" height="11" fill="#ff0000"/>
<text x="882" y="472" font-size="10" fill="#fff" stroke="#fff" stroke-width="0.2" textLength="31.5" lengthAdjust="spacingAndGlyphs">1.16506</text>
<rect x="878" y="394" width="39" height="11" fill="#000"/>
<text x="882" y="403" font-size="10" fill="#fff" stroke="#fff" stroke-width="0.2" textLength="31.5" lengthAdjust="spacingAndGlyphs">1.16756</text>
<rect x="3" y="570" width="1" height="3" fill="#000"/>
<text x="2" y="582" font-size="10" fill="#000" stroke="#000" stroke-width="0.2" textLength="41.1" lengthAdjust="spacingAndGlyphs">3 Jul 2025</text>
<rect x="67" y="570" width="1" height="3" fill="#000"/>
<text x="66" y="582" font-size="10" fill="#000" stroke="#000" stroke-width="0.2" textLength="43.5" lengthAdjust="spacingAndGlyphs">3 Jul 23:00</text>
<rect x="131" y="570" width="1" height="3" fill="#000"/>
<text x="130" y="582" font-size="10" fill="#000" stroke="#000" stroke-width="0.2" textLength="43.5" lengthAdjust="spacingAndGlyphs">4 Jul 15:00</text>
<rect x="195" y="570" width="1" height="3" fill="#000"/>
<text x="194" y="582" font-size="10" fill="#000" stroke="#000" stroke-width="0.2" textLength="43.5" lengthAdjust="spacingAndGlyphs">7 Jul 08:00</text>
<rect x="259" y="570" width="1" height="3" fill="#000"/>
<text x="258" y="582" font-size="10" fill="#000" stroke="#000" stroke-width="0.2" textLength="43.5" lengthAdjust="spacingAndGlyphs">8 Jul 00:00</text>
<rect x="323" y="570" width="1" height="3" fill="#000"/>
<text x="322" y="582" font-size="10" fill="#000" stroke="#000" stroke-width="0.2" textLength="43.5" lengthAdjust="spacingAndGlyphs">8 Jul 16:00</text>
<rect x="387" y="570" width="1" height="3" fill="#000"/>
<text x="386" y="582" font-size="10" fill="#000" stroke="#000" stroke-width="0.2" textLength="43.5" lengthAdjust="spacingAndGlyphs">9 Jul 08:00</text>
<rect x="451" y="570" width="1" height="3" fill="#000"/>
<text x="450" y="582" font-size="10" fill="#000" stroke="#000" stroke-width="0.2" textLength="48.5" lengthAdjust="spacingAndGlyphs">10 Jul 00:00</text>
<rect x="515" y="570" width="1" height="3" fill="#000"/>
<text x="514" y="582" font-size="10" fill="#000" stroke="#000" stroke-width="0.2" textLength="48.5" lengthAdjust="spacingAndGlyphs">10 Jul 16:00</text>
<rect x="579" y="570" width="1" height="3" fill="#000"/>
<text x="578" y="582" font-size="10" fill="#000" stroke="#000" stroke-width="0.2" textLength="47.8" lengthAdjust="spacingAndGlyphs">11 Jul 08:00</text>
<rect x="643" y="570" width="1" height="3" fill="#000"/>
<text x="642" y="582" font-size="10" fill="#000" stroke="#000" stroke-width="0.2" textLength="48.5" lengthAdjust="spacingAndGlyphs">14 Jul 01:00</text>
<rect x="707" y="570" width="1" height="3" fill="#000"/>
<text x="706" y="582" font-size="10" fill="#000" stroke="#000" stroke-width="0.2" textLength="48.5" lengthAdjust="spacingAndGlyphs">14 Jul 17:00</text>
<path d="M6,9 L13,9 L9.5,13 Z" fill="#000"/>
<text x="17" y="14" font-size="10" fill="#000" stroke="#000" stroke-width="0.2" textLength="53.0" lengthAdjust="spacingAndGlyphs">EURUSD,H1</text>
<text x="78" y="14" font-size="10" fill="#000" stroke="#000" stroke-width="0.2" textLength="140.0" lengthAdjust="spacingAndGlyphs">1.16744 1.16777 1.16731 1.16756</text>
<text x="6" y="486" font-size="10" fill="#000" stroke="#000" stroke-width="0.2" textLength="242.0" lengthAdjust="spacingAndGlyphs">MACD_color(5,34,5) 0.00000000 0.00000000 -0.00084559</text>
</svg>
</body></html>
